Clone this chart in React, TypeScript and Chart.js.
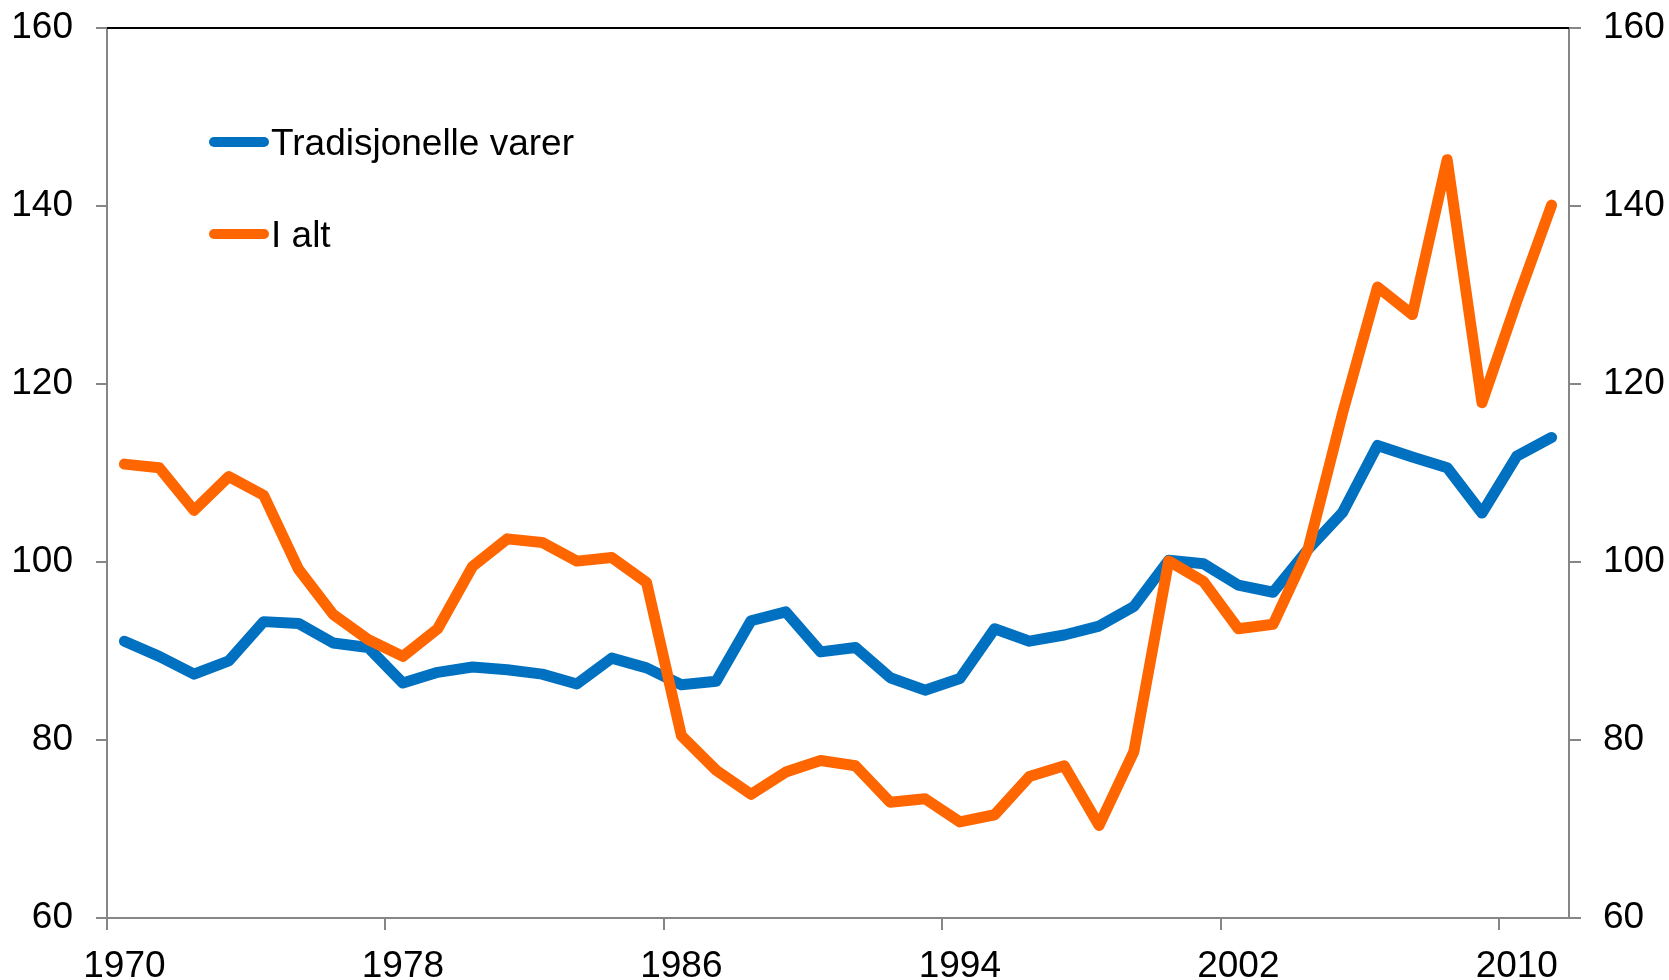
import React, { useEffect, useRef } from 'react';
import { Chart, registerables } from 'chart.js';

Chart.register(...registerables);

const years = [
  '1970', '1971', '1972', '1973', '1974', '1975', '1976', '1977', '1978', '1979',
  '1980', '1981', '1982', '1983', '1984', '1985', '1986', '1987', '1988', '1989',
  '1990', '1991', '1992', '1993', '1994', '1995', '1996', '1997', '1998', '1999',
  '2000', '2001', '2002', '2003', '2004', '2005', '2006', '2007', '2008', '2009',
  '2010', '2011',
];

const xTickLabels = ['1970', '1978', '1986', '1994', '2002', '2010'];

const tradisjonelleVarer = [
  91.1, 89.4, 87.4, 88.9, 93.3, 93.1, 90.9, 90.4, 86.4, 87.6,
  88.2, 87.9, 87.4, 86.3, 89.2, 88.1, 86.2, 86.6, 93.4, 94.4,
  89.9, 90.4, 87.0, 85.6, 86.9, 92.5, 91.1, 91.8, 92.8, 95.0,
  100.2, 99.8, 97.4, 96.6, 101.4, 105.6, 113.1, 111.8, 110.6, 105.5,
  111.9, 114.0,
];

const iAlt = [
  111.0, 110.6, 105.8, 109.6, 107.5, 99.2, 94.1, 91.3, 89.4, 92.5,
  99.5, 102.6, 102.2, 100.1, 100.5, 97.7, 80.5, 76.6, 73.9, 76.4,
  77.7, 77.1, 73.0, 73.4, 70.8, 71.6, 75.9, 77.1, 70.4, 78.7,
  100.1, 97.8, 92.5, 93.0, 101.4, 116.8, 130.9, 127.8, 145.2, 117.9,
  129.3, 140.1,
];

const seriesLabels = ['Tradisjonelle varer', 'I alt'];
const seriesColors = ['#0070C0', '#FF6600'];

const FONT = '"Liberation Sans", Arial, Helvetica, sans-serif';
const FONT_SIZE = 37;
const AXIS_GRAY = '#868686';
const LINE_WIDTH = 11;

const legendPlugin = {
  id: 'insideLegend',
  afterDatasetsDraw(chart: any) {
    const ctx = chart.ctx;
    chart.data.datasets.forEach((ds: any, i: number) => {
      const y = 142 + i * 92;
      ctx.save();
      ctx.strokeStyle = ds.borderColor;
      ctx.lineWidth = 10;
      ctx.lineCap = 'round';
      ctx.beginPath();
      ctx.moveTo(214, y);
      ctx.lineTo(264, y);
      ctx.stroke();
      ctx.fillStyle = '#000000';
      ctx.font = `${FONT_SIZE}px ${FONT}`;
      ctx.textBaseline = 'alphabetic';
      ctx.textAlign = 'left';
      ctx.fillText(ds.label, 271, y + 13);
      ctx.restore();
    });
  },
};

const topBorderPlugin = {
  id: 'topBorder',
  afterDraw(chart: any) {
    const { ctx, chartArea } = chart;
    ctx.save();
    ctx.strokeStyle = '#000000';
    ctx.lineWidth = 2;
    ctx.beginPath();
    ctx.moveTo(chartArea.left, chartArea.top);
    ctx.lineTo(chartArea.right, chartArea.top);
    ctx.stroke();
    ctx.restore();
  },
};

export default function App() {
  const canvasRef = useRef<HTMLCanvasElement | null>(null);

  useEffect(() => {
    document.body.style.margin = '0';
    const canvas = canvasRef.current;
    if (!canvas) return;
    const showTick = (index: number) => xTickLabels.includes(years[index]);
    const fitY = (w: number) => (s: any) => {
      s.width = w;
      s.paddingTop = 0;
      s.paddingBottom = 0;
    };
    const chart = new Chart(canvas, {
      type: 'line',
      data: {
        labels: years,
        datasets: [
          {
            label: seriesLabels[0],
            data: tradisjonelleVarer,
            borderColor: seriesColors[0],
            backgroundColor: seriesColors[0],
            borderWidth: LINE_WIDTH,
            pointRadius: 0,
            borderCapStyle: 'round',
            borderJoinStyle: 'round',
            tension: 0,
            order: 1,
            yAxisID: 'y',
          },
          {
            label: seriesLabels[1],
            data: iAlt,
            borderColor: seriesColors[1],
            backgroundColor: seriesColors[1],
            borderWidth: LINE_WIDTH,
            pointRadius: 0,
            borderCapStyle: 'round',
            borderJoinStyle: 'round',
            tension: 0,
            order: 0,
            yAxisID: 'y',
          },
        ],
      },
      options: {
        responsive: false,
        animation: false,
        layout: { padding: { top: 28, left: 0, right: 0, bottom: 0 } },
        plugins: {
          legend: { display: false },
          tooltip: { enabled: false },
        },
        scales: {
          x: {
            type: 'category',
            offset: true,
            afterFit: (s: any) => { s.height = 62; },
            grid: {
              offset: true,
              drawOnChartArea: false,
              drawTicks: true,
              tickLength: 12,
              lineWidth: 2,
              color: (c: any) => (showTick(c.index) ? AXIS_GRAY : 'rgba(0,0,0,0)'),
              tickColor: (c: any) => (showTick(c.index) ? AXIS_GRAY : 'rgba(0,0,0,0)'),
            },
            border: { display: true, color: AXIS_GRAY, width: 2 },
            ticks: {
              autoSkip: false,
              maxRotation: 0,
              minRotation: 0,
              padding: 15,
              color: '#000000',
              font: { family: FONT, size: FONT_SIZE },
              callback: (_v: any, index: number) => (showTick(index) ? years[index] : ''),
            },
          },
          y: {
            type: 'linear',
            position: 'left',
            min: 60,
            max: 160,
            afterFit: fitY(107),
            grid: {
              drawOnChartArea: false,
              drawTicks: true,
              tickLength: 11,
              lineWidth: 2,
              color: AXIS_GRAY,
              tickColor: AXIS_GRAY,
            },
            border: { display: true, color: AXIS_GRAY, width: 2 },
            ticks: {
              stepSize: 20,
              padding: 23,
              color: '#000000',
              font: { family: FONT, size: FONT_SIZE },
            },
          },
          y1: {
            type: 'linear',
            position: 'right',
            min: 60,
            max: 160,
            afterFit: fitY(100),
            grid: {
              drawOnChartArea: false,
              drawTicks: true,
              tickLength: 12,
              lineWidth: 2,
              color: AXIS_GRAY,
              tickColor: AXIS_GRAY,
            },
            border: { display: true, color: AXIS_GRAY, width: 2 },
            ticks: {
              stepSize: 20,
              padding: 22,
              color: '#000000',
              font: { family: FONT, size: FONT_SIZE },
            },
          },
        },
      },
      plugins: [legendPlugin, topBorderPlugin],
    } as any);
    return () => chart.destroy();
  }, []);

  return (
    <div style={{ width: 1669, height: 980, background: '#ffffff' }}>
      <canvas ref={canvasRef} width={1669} height={980} style={{ display: 'block' }} />
    </div>
  );
}
